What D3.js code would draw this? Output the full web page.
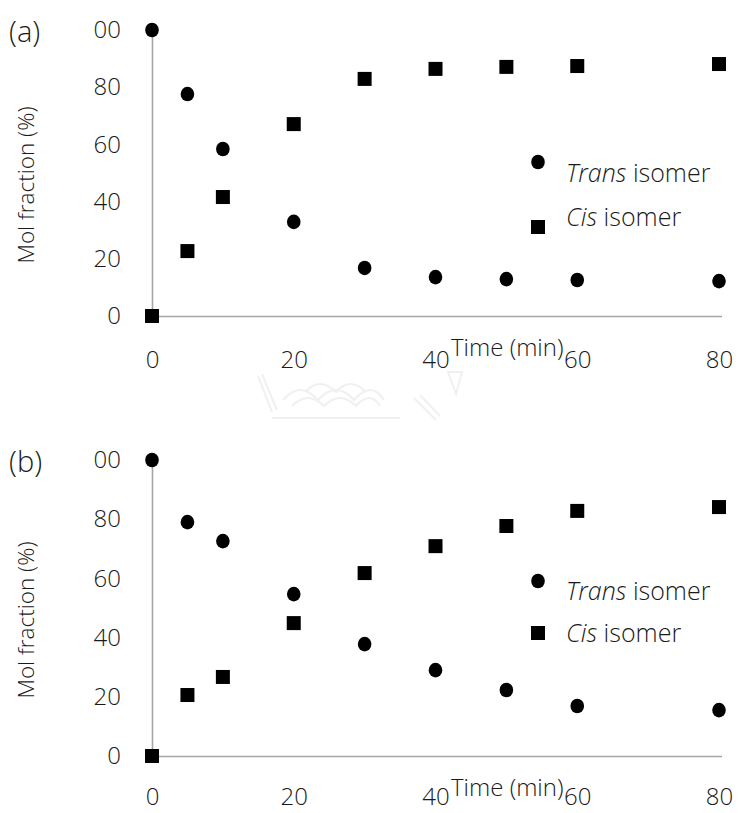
<!DOCTYPE html>
<html><head><meta charset="utf-8">
<script src="https://cdn.jsdelivr.net/npm/d3@7"></script>
<style>
body{margin:0;background:#fff}
svg text{font-family:"Open Sans","Noto Sans",sans-serif;font-weight:300;fill:#1a1a1a}
</style>
</head><body>
<svg id="chart" width="740" height="813"></svg>
<script>
// ---- data ----
const times = [0, 5, 10, 20, 30, 40, 50, 60, 80];
const transA = [100, 77.6, 58.4, 32.9, 16.8, 13.6, 12.9, 12.6, 12.2];
const cisA   = [0, 22.7, 41.6, 67.1, 82.9, 86.4, 87.1, 87.4, 88.1];
const transB = [100, 79.0, 72.6, 54.7, 37.8, 29.0, 22.3, 16.9, 15.5];
const cisB   = [0, 20.6, 26.7, 44.9, 61.8, 70.9, 77.7, 82.8, 84.1];
const xTicks = [0, 20, 40, 60, 80];
const yTicks = [0, 20, 40, 60, 80, 100];
const yTickLabels = ["0", "20", "40", "60", "80", "00"];
const seriesLabels = [["Trans", " isomer"], ["Cis", " isomer"]];
const panelLabels = ["(a)", "(b)"];
const xTitle = "Time (min)";
const yTitle = "Mol fraction (%)";

// ---- layout ----
const svg = d3.select("#chart");
const x = d3.scaleLinear().domain([0, 80]).range([152, 719]);
const axisColor = "#a6a6a6";

const panels = [
  {label: panelLabels[0], trans: transA, cis: cisA, y0: 316, y100: 30, pad: 35, legY: [162, 227], legTextY: [173, 217]},
  {label: panelLabels[1], trans: transB, cis: cisB, y0: 756, y100: 460, pad: 32, legY: [581, 633], legTextY: [591, 633]}
];

// faint watermark (emblem) between panels
const wm = svg.append("g").attr("fill", "none").attr("stroke", "#f0f0f0").attr("stroke-width", 2);
wm.append("path").attr("d", "M258,376 L272,412");
wm.append("path").attr("d", "M262,374 L277,410");
wm.append("path").attr("d", "M283,400 Q300,380 318,400 Q336,380 354,400 Q372,380 384,400");
wm.append("path").attr("d", "M292,406 Q308,390 324,406 Q340,390 356,406 Q370,390 380,406");
wm.append("path").attr("d", "M305,392 Q320,376 336,392 Q350,376 366,392");
wm.append("path").attr("d", "M272,418 L400,418");
wm.append("path").attr("d", "M414,398 L436,420 M420,395 L440,416");
wm.append("path").attr("d", "M448,372 L462,372 L456,394 Z");

panels.forEach(p => {
  const y = d3.scaleLinear().domain([0, 100]).range([p.y0, p.y100]);
  const g = svg.append("g");

  // y axis
  const ya = g.append("g").attr("transform", `translate(${x(0)},0)`)
    .call(d3.axisLeft(y).tickValues(yTicks).tickSize(0).tickPadding(31)
      .tickFormat(d => yTickLabels[yTicks.indexOf(d)]));
  // x axis
  const xa = g.append("g").attr("transform", `translate(0,${y(0)})`)
    .call(d3.axisBottom(x).tickValues(xTicks).tickSize(0).tickPadding(p.pad));
  [ya, xa].forEach(a => {
    a.select(".domain").attr("stroke", axisColor).attr("stroke-width", 1.6);
    a.selectAll("text").attr("font-size", 24).attr("fill", "#1a1a1a")
      .attr("font-family", null);
  });
  xa.select(".domain").attr("d", `M${x(0)},0.5H${x(80) + 3}`);

  // titles
  g.append("text").attr("x", 9).attr("y", p.y100 + 12).attr("font-size", 29).text(p.label);
  g.append("text").attr("transform", `translate(34,${(p.y0 + p.y100) / 2 + 12}) rotate(-90)`)
    .attr("text-anchor", "middle").attr("font-size", 22.5).text(yTitle);
  g.append("text").attr("x", 451).attr("y", p.y0 + 40).attr("font-size", 24).text(xTitle);

  // markers
  g.selectAll("rect.cis").data(times).join("rect").attr("class", "cis")
    .attr("x", (d, i) => x(d) - 7).attr("y", (d, i) => y(p.cis[i]) - 7)
    .attr("width", 14).attr("height", 14).attr("fill", "#000");
  g.selectAll("ellipse.trans").data(times).join("ellipse").attr("class", "trans")
    .attr("cx", d => x(d)).attr("cy", (d, i) => y(p.trans[i]))
    .attr("rx", 6.8).attr("ry", 7.3).attr("fill", "#000");

  // legend
  g.append("ellipse").attr("cx", 538).attr("cy", p.legY[0]).attr("rx", 6.8).attr("ry", 7.3).attr("fill", "#000");
  g.append("rect").attr("x", 531).attr("y", p.legY[1] - 7).attr("width", 14).attr("height", 14).attr("fill", "#000");
  seriesLabels.forEach((s, i) => {
    const t = g.append("text").attr("x", 566).attr("y", p.legTextY[i]).attr("dy", "0.35em").attr("font-size", 25);
    t.append("tspan").attr("font-style", "italic").text(s[0]);
    t.append("tspan").text(s[1]);
  });
});
</script>
</body></html>
